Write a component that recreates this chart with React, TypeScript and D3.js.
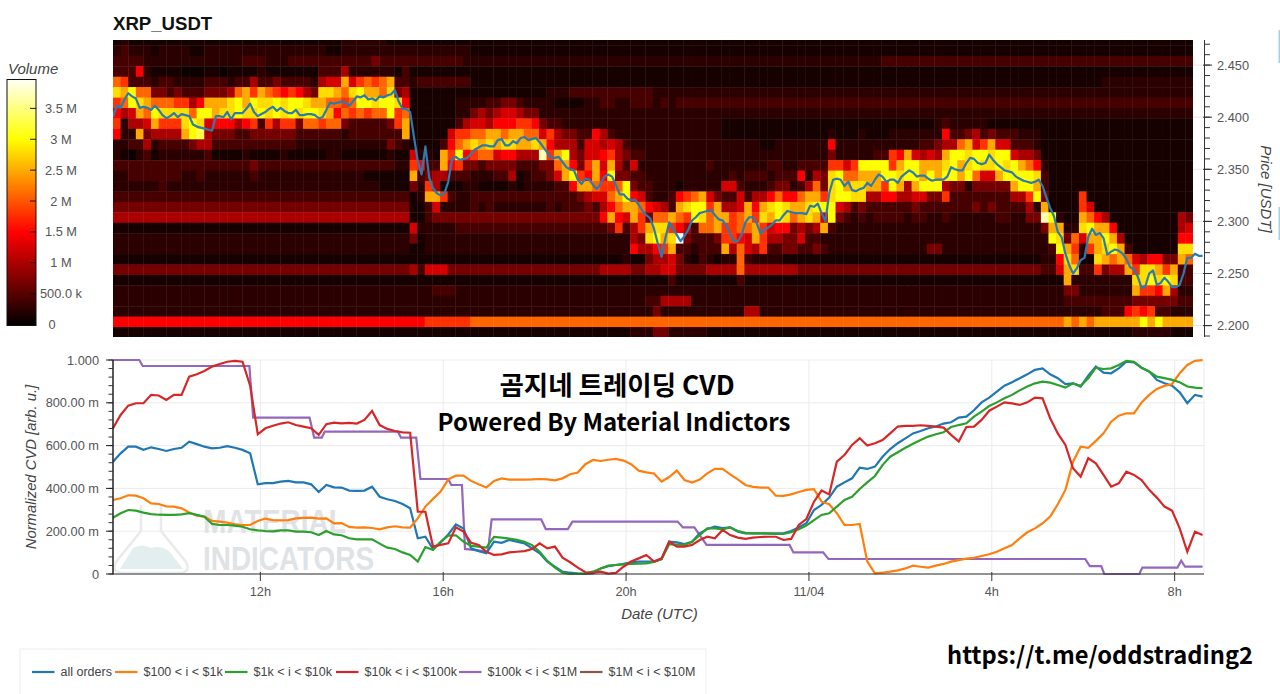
import React from "react";
import * as d3 from "d3";

// ---------- data ----------
const startTime = Date.UTC(2024, 10, 3, 8, 46, 36);
const endTime = Date.UTC(2024, 10, 4, 8, 38, 30);
const tenMin = 600000;
const fiveMin = 300000;

// heat map: one hex digit per cell, 142 ten-minute columns, top price row first
const volumeLevels = [0.05, 0.15, 0.25, 0.42, 0.68, 1.0, 1.25, 1.5, 1.8, 2.1, 2.5, 2.8, 3.0, 3.3, 3.7, 4.1];
const heatRows = [
  "1211111111 1111111111 1111111111 2222221111 1111111111 1111111111 1111111111 1111111111 1111111111 1111111111 1111111111 1111111111 1111111111 1111111111 11",
  "2322212222 1122222222 2222222211 2222222222 2222222111 1111111111 1111111111 1111111111 1111111111 1111111111 1111111111 1111111111 1111111111 1111111111 11",
  "3333222222 2222222333 2223333333 3333433333 3333332222 2222222222 2222222222 2222222222 2222222222 2222222222 2333333333 3333333333 3333333333 3333333333 33",
  "3337211110 0011011112 1111111333 5222222131 1111111111 1111111111 1111111111 1111111111 1111111111 1111111111 1111111111 1111111111 1111111111 1111111111 11",
  "9833323322 2233323353 3433332566 a68989a332 3333333111 1111111111 1111111111 1111111111 1111111111 1111111111 1111111111 1111111111 1111111111 2222222222 22",
  "bac9944343 3344459a8a 9878754bba 9bcaa9b451 1111111111 1111111222 3333333333 3222222222 2222222222 2222222222 2222222222 2222222222 2222222222 2222222222 22",
  "89cba99988 57aaabcacb bcbccbaa99 89ccbccb71 1111122223 3443222211 1122332233 3232333333 3333333333 3333333333 3333333333 3333333333 3333333333 3333333333 33",
  "756a9cbbbb 9ccabbcbbc bcbcbccba7 989899c891 1111122454 5665442222 2222222222 2222222222 2222222222 2222222222 2222222222 2222222222 2222222222 2222222222 22",
  "82556a888b cb67775783 8588499899 43333348a1 1111135665 7778874332 2222222222 2222222222 1111111111 1111111111 1111111123 2222211111 1111111111 1111111111 11",
  "722a45555a cd54443344 4444333333 23333333a1 111168899a a9aa996854 4337532222 2222222222 1111111111 1111211121 1122222227 3345343332 2211111111 1111111111 11",
  "2233523333 4553333333 3333222222 2222224321 111379abab abbaaba755 5366565322 2222222222 2222211222 2222722222 2222223345 59a68a6633 3211111111 1111111111 11",
  "2102312222 2231111211 1121111122 1111112116 221a8c7899 677555e8ac 5466785433 2222222222 2222222222 2222422222 3387a6565a ccbccbcc65 5411111111 1111111111 11",
  "3333333333 3333333343 3333333333 3333333228 733a784434 444333449a 748a6a5362 2222222232 2222223322 33338868cc cc8accaaab cabcbbcbca 9721111111 1111111111 11",
  "2233333332 2322222232 2222222222 222111111a 3455333222 335123346a c87a7c4433 2222222222 2323332333 7254bc99aa accbccacac cac966accc cb31111111 1111111111 11",
  "2222223222 2222222222 2222222222 2222211114 2851112211 1121222233 7aa9889c43 3222122222 6632223442 3594bcabba a8ca5accc5 44244444ac ca31111111 1111111111 11",
  "3333333333 3333333333 3333333333 3333333331 2aa8322333 3333333333 345669ac76 3223789a64 3363557977 9aa8bccbb5 5775566448 3333333355 8c41111811 1111111111 11",
  "4444444444 4444444444 4444444444 4444444441 1362222323 2222222323 3343579aa9 7653abcc8a 556a7abcba abccc65343 3333343333 3334343333 52a1111861 1111111111 11",
  "5555555555 5555555555 5555555555 5555555551 1344444444 4444444444 44447a76a8 499a98cb9a a89a8bacb9 aba6c43232 3333233223 2222223322 44ec211a97 5111111111 54",
  "1111111111 1111111111 1111111111 1111111116 2222233333 3333333333 3333348358 abb875399a 8899a86774 545a322222 2222222222 2222222222 224aa22bca a711111111 56",
  "2222222222 2222222222 2222222222 2222222224 1222222222 2222222222 2222222254 bcabf43334 8876a85544 6332222222 2222222222 2222222222 222cb496aa ca51111111 77",
  "2222222222 2222222222 2222222222 2222222221 1222222222 2222222222 2222222275 578a332333 a596583344 3343222222 2222222442 2222222222 2223ca828a bca3111111 bb",
  "1111111111 1111111111 1111111111 1111111111 1111111111 1111111111 1111111211 4556421321 2293222211 1111111111 1111111111 1111111111 11227b911b a9a9657744 a9",
  "4444444444 4444444444 4444444444 4444444445 3666444444 4444444444 4444555544 5566444455 5595555555 4444444444 4444444444 4444444444 44336ab338 455a8bba8a 33",
  "1111111111 1111111111 1111111111 1111111111 1111111111 1111111111 1111111111 1113111111 1131111111 1111111111 1111111111 1111111111 11111a2222 2222bbcbcb 33",
  "2222222222 2222222222 2222222222 2222222222 2233322222 2222222222 2222222222 2222222222 2222222222 2222222222 2222222222 2222222222 2222244222 2222a887a5 22",
  "2222222222 2222222222 2222222222 2222222222 2222222222 2222222222 2222222222 3355552222 2222222222 2222222222 2222222222 2222222222 2222233333 3333444444 33",
  "2222222222 2222222222 2222222222 2222222222 2222222222 2222222222 2222222222 2422222222 2225522222 2222222222 2222222222 2222222222 2222222222 3337878332 22",
  "7777777777 7777777777 7777777777 7777777777 7888888999 9999999999 9999999999 9999999999 9999999999 9999999999 9999999999 9999999999 99999a9a9a aaaaacacaa aa",
  "1111111111 1111111111 1111111111 1111111111 1111111111 1111111111 1111111122 2442222211 1111111111 1111111111 1111111111 1111111111 1111111111 1111222221 11",
];

// price, thousandths of a USDT, every five minutes
const priceMilli = [
  2400,2411,2409,2417,2423,2420,2418,2409,2410,2409,2407,2411,2407,2402,2399,2401,2404,2400,2403,2402,
  2401,2393,2391,2390,2389,2388,2387,2401,2401,2400,2405,2398,2404,2404,2404,2408,2413,2405,2401,2403,
  2405,2408,2410,2406,2409,2406,2404,2404,2407,2402,2402,2403,2403,2402,2399,2400,2407,2414,2413,2414,
  2415,2414,2411,2415,2420,2419,2421,2417,2418,2416,2420,2419,2421,2422,2426,2415,2408,2408,2405,2381,
  2358,2345,2372,2342,2332,2327,2325,2327,2338,2360,2362,2359,2360,2361,2365,2369,2371,2373,2373,2372,
  2372,2378,2379,2373,2373,2377,2375,2380,2381,2378,2379,2380,2376,2371,2366,2361,2361,2362,2357,2352,
  2350,2349,2340,2336,2341,2340,2335,2331,2336,2343,2345,2343,2335,2326,2326,2322,2320,2321,2316,2310,
  2306,2303,2293,2279,2266,2284,2299,2293,2287,2281,2286,2292,2301,2304,2308,2309,2310,2311,2306,2302,
  2301,2296,2288,2281,2281,2287,2299,2304,2304,2298,2288,2293,2294,2297,2301,2301,2306,2310,2309,2308,
  2308,2308,2307,2315,2314,2317,2308,2300,2327,2340,2341,2340,2334,2338,2330,2329,2331,2332,2337,2334,
  2340,2345,2343,2338,2340,2340,2337,2343,2346,2349,2347,2343,2344,2344,2341,2339,2340,2340,2340,2343,
  2352,2350,2349,2349,2356,2361,2360,2356,2355,2356,2364,2359,2355,2352,2349,2348,2347,2343,2341,2339,
  2338,2337,2338,2340,2334,2323,2313,2305,2290,2285,2269,2258,2250,2255,2263,2265,2285,2293,2287,2289,
  2284,2268,2271,2273,2272,2269,2264,2256,2254,2247,2236,2238,2250,2253,2239,2241,2246,2242,2237,2237,
  2239,2250,2265,2265,2269,2267,2267,
];

// normalized CVD, milli-units, every ten minutes
const allOrders = [
  525,564,595,595,580,592,584,575,584,590,618,607,595,587,590,597,590,580,564,419,
  425,425,432,435,428,428,419,383,416,405,404,390,388,390,408,361,349,341,327,307,
  167,174,117,148,185,232,213,120,107,97,151,146,159,151,143,120,97,58,34,11,
  6,2,0,3,26,37,42,47,55,58,58,58,70,151,148,140,151,190,210,221,
  215,218,198,190,190,190,190,190,190,201,217,237,299,323,357,408,428,447,497,491,
  502,548,584,611,634,657,668,681,689,703,709,731,735,765,802,824,852,880,896,915,
  933,954,961,933,915,887,891,876,927,969,941,938,961,992,989,964,946,907,891,880,
  849,798,837,829,
];
const orders100to1k = [
  346,354,368,366,354,330,327,316,315,307,287,273,268,248,245,240,232,229,229,248,
  259,252,251,252,260,262,263,259,260,237,238,220,217,218,215,209,218,223,218,217,
  260,315,351,385,442,460,460,435,419,404,435,447,441,441,441,442,444,442,438,447,
  466,474,513,533,528,534,538,530,513,483,475,470,432,453,483,439,427,441,470,491,
  491,466,442,416,407,404,404,366,365,372,383,393,396,338,326,284,229,229,234,58,
  3,6,11,17,26,39,34,30,39,47,58,65,72,76,84,92,104,120,135,167,
  195,213,237,268,326,393,525,595,590,622,657,712,740,751,751,802,837,865,879,888,
  938,977,996,999,
];
const orders1kto10k = [
  263,284,299,296,287,280,277,276,276,279,284,276,268,234,229,229,226,221,209,204,
  201,199,204,204,198,198,195,182,201,185,181,167,162,162,162,142,123,117,101,89,
  58,126,112,151,179,181,151,131,128,123,173,170,165,160,151,135,104,61,30,6,
  0,2,3,11,26,39,42,45,47,48,50,56,70,139,137,136,151,182,213,213,
  209,218,201,192,190,190,189,187,187,195,209,226,252,276,284,315,346,361,397,428,
  458,509,548,569,590,609,626,642,653,662,687,696,704,735,759,785,802,821,837,858,
  876,891,899,894,883,871,891,880,915,964,958,961,977,996,992,964,946,922,915,907,
  896,876,871,868,
];
const orders10kto100k = [
  681,743,787,798,798,837,834,813,837,837,922,933,949,969,981,992,996,992,880,653,
  681,693,703,709,696,689,681,650,700,707,704,706,703,720,762,696,678,668,662,660,
  291,291,128,136,143,218,198,146,136,104,89,92,101,104,107,117,143,120,128,76,
  55,30,8,6,11,2,5,34,58,73,89,58,73,151,128,128,136,159,174,167,
  206,182,170,164,170,173,174,174,159,164,229,257,338,390,372,525,556,603,634,600,
  611,626,657,689,692,692,695,692,689,684,650,619,687,689,720,763,782,802,797,790,
  802,824,821,728,657,603,494,455,541,517,463,408,424,478,463,439,393,357,315,296,
  213,104,198,182,
];
// the biggest-order curve is a staircase: ten-minute step number, value
const whaleStep = [
  0,3.45,3.9,17.9,18.4,25.8,26.4,27.4,27.8,37.4,37.8,39.8,40.35,44,44.4,45.8,46.2,49.2,49.7,56.2,56.8,59.7,60.3,74.1,74.8,76.3,77.9,88.8,89.3,93.2,93.9,127.6,128.2,129.7,130.1,134.7,135.1,139.7,140.2,140.7,143,
];
const whaleValue = [
  1000,1000,972,972,731,731,637,637,665,665,637,637,444,444,416,416,117,105,255,255,210,210,245,245,218,218,136,136,101,101,70,70,37,37,0,0,30,30,62,34,34,
];

const legendLabels = ["all orders", "$100 < i < $1k", "$1k < i < $10k", "$10k < i < $100k", "$100k < i < $1M", "$1M < i < $10M"];
const legendColors = ["#1f77b4", "#ff7f0e", "#2ca02c", "#d62728", "#9467bd", "#8c564b"];
const legendLineX = [32, 115, 225, 336, 459, 580];

const priceTicks = [2.2, 2.25, 2.3, 2.35, 2.4, 2.45];
const priceMinor = d3.range(219, 248).map((d) => d / 100);
const cvdTicks = [0, 200, 400, 600, 800, 1000];
const cvdLabels = ["0", "200.00 m", "400.00 m", "600.00 m", "800.00 m", "1.000"];
const cvdMinor = d3.range(0, 1001, 40);
const timeTicks = [
  { t: Date.UTC(2024, 10, 3, 12), label: "12h" },
  { t: Date.UTC(2024, 10, 3, 16), label: "16h" },
  { t: Date.UTC(2024, 10, 3, 20), label: "20h" },
  { t: Date.UTC(2024, 10, 4, 0), label: "11/04" },
  { t: Date.UTC(2024, 10, 4, 4), label: "4h" },
  { t: Date.UTC(2024, 10, 4, 8), label: "8h" },
];
const volumeTicks = [0, 0.5, 1, 1.5, 2, 2.5, 3, 3.5];
const volumeLabels = ["0", "500.0 k", "1 M", "1.5 M", "2 M", "2.5 M", "3 M", "3.5 M"];

// ---------- scales ----------
const L = 113, R = 1204, HEAT_R = 1193;
const x = d3.scaleUtc().domain([startTime, endTime]).range([L, R]);
const yPrice = d3.scaleLinear().domain([2.2, 2.45]).range([325.6, 65.1]);
const yCvd = d3.scaleLinear().domain([0, 1000]).range([574, 360]);
const yBar = d3.scaleLinear().domain([0, 4]).range([324.5, 77.5]);

const rowsClean = heatRows.map((r) => r.replace(/ /g, ""));
const colBand = d3.scaleBand<number>().domain(d3.range(142)).range([L, HEAT_R]);
const rowBand = d3.scaleBand<number>().domain(d3.range(29)).range([35, 337.5]);

const clamp = (v: number) => Math.max(0, Math.min(1, v));
const hotColor = (v: number) =>
  d3.rgb(255 * clamp(v / 1.5), 255 * clamp((v - 1.5) / 1.5), 255 * clamp((v - 3) / 1)).formatHex();

const cvdLine = d3
  .line<number>()
  .x((_, i) => x(startTime + i * tenMin))
  .y((d) => yCvd(d));
const priceLine = d3
  .line<number>()
  .x((_, i) => x(startTime + i * fiveMin))
  .y((d) => yPrice(d / 1000));
const stepPath = d3
  .line<number>()
  .x((d) => x(startTime + d * tenMin))
  .y((_, i) => yCvd(whaleValue[i]));

const FONT = "'Liberation Sans', Arial, sans-serif";
const KFONT = "'Noto Sans CJK KR', 'Noto Sans', sans-serif";
const gradStops = [0, 0.75, 1.5, 2.25, 3, 3.5, 3.96];

export default function App() {
  return (
    <svg
      width={1280}
      height={694}
      viewBox="0 0 1280 694"
      style={{ position: "fixed", left: 0, top: 0, background: "#fff", display: "block" }}
      fontFamily={FONT}
    >
      <defs>
        <clipPath id="heatClip">
          <rect x={L} y={40} width={HEAT_R - L} height={297} />
        </clipPath>
        <clipPath id="topClip">
          <rect x={L} y={40} width={R - L} height={297} />
        </clipPath>
        <filter id="soft" x="-1%" y="-1%" width="102%" height="102%">
          <feGaussianBlur stdDeviation="0.45" />
        </filter>
        <linearGradient id="hotBar" x1="0" y1="1" x2="0" y2="0">
          {gradStops.map((v) => (
            <stop key={v} offset={v / 3.96} stopColor={hotColor(v)} />
          ))}
        </linearGradient>
      </defs>

      <text x={113} y={30} fontSize={18.6} fontWeight="bold" fill="#111">XRP_USDT</text>

      {/* heat map */}
      <g clipPath="url(#heatClip)">
        <g filter="url(#soft)">
          {rowsClean.map((row, r) =>
            row.split("").map((ch, c) => (
              <rect
                key={r + "-" + c}
                x={colBand(c)}
                y={rowBand(r)}
                width={colBand.bandwidth() + 0.4}
                height={rowBand.bandwidth() + 0.4}
                fill={hotColor(volumeLevels[parseInt(ch, 16)])}
              />
            ))
          )}
        </g>
      </g>
      {priceTicks.map((p) => (
        <line key={p} x1={HEAT_R} x2={R} y1={yPrice(p)} y2={yPrice(p)} stroke="#e6e6e6" />
      ))}
      <g clipPath="url(#topClip)">
        <path d={priceLine(priceMilli) || ""} fill="none" stroke="#2a7bb0" strokeWidth={2.2} strokeLinejoin="round" />
      </g>

      {/* right axis */}
      <line x1={R + 0.5} x2={R + 0.5} y1={40} y2={337} stroke="#333" />
      {priceMinor.map((p) => (
        <line key={p} x1={R} x2={R + 6} y1={yPrice(p)} y2={yPrice(p)} stroke="#333" />
      ))}
      {priceTicks.map((p) => (
        <g key={p}>
          <line x1={R - 1} x2={R + 8} y1={yPrice(p)} y2={yPrice(p)} stroke="#333" />
          <text x={1217} y={yPrice(p) + 4.5} fontSize={12.8} fill="#555">{p.toFixed(3)}</text>
        </g>
      ))}
      <text transform="translate(1261,189) rotate(90)" textAnchor="middle" fontSize={15} fontStyle="italic" fill="#444">
        Price [USDT]
      </text>
      <rect x={1278.5} y={30} width={1.5} height={33} fill="#a8d0e0" />
      <rect x={1278.5} y={207} width={1.5} height={33} fill="#a8d0e0" />

      {/* colour bar */}
      <text x={8} y={74} fontSize={15} fontStyle="italic" fill="#444">Volume</text>
      <rect x={7} y={79.5} width={29} height={246} fill="url(#hotBar)" stroke="#111" />
      {volumeTicks.map((v, i) => (
        <g key={v}>
          {i > 0 && <line x1={30} x2={36} y1={yBar(v)} y2={yBar(v)} stroke="#111" />}
          <text
            x={i === 0 ? 52 : 61}
            y={yBar(v) + 4.5}
            textAnchor="middle"
            fontSize={12.8}
            fill="#555"
          >
            {volumeLabels[i]}
          </text>
        </g>
      ))}

      {/* lower panel: grid */}
      {cvdTicks.map((v) => (
        <line key={v} x1={L} x2={R} y1={yCvd(v)} y2={yCvd(v)} stroke="#ebebeb" />
      ))}
      {timeTicks.map((d) => (
        <line key={d.t} x1={x(d.t)} x2={x(d.t)} y1={360} y2={574} stroke="#ebebeb" />
      ))}
      <line x1={R} x2={R} y1={360} y2={574} stroke="#ebebeb" />

      {/* watermark */}
      <path
        d="M141 505 L141 531 L116 562 Q111 572 122 573 L180 573 Q191 572 186 562 L161 531 L161 505"
        fill="none"
        stroke="#e9ebeb"
        strokeWidth={2.5}
      />
      <path
        d="M120 569 L133 548 Q142 543 151 548 Q162 545 170 552 L183 569 Z"
        fill="#e3efef"
      />
      <text x={203} y={533} fontSize={34} fontWeight="bold" fill="#dfe3e6" textLength={143} lengthAdjust="spacingAndGlyphs">
        MATERIAL
      </text>
      <text x={203} y={570} fontSize={34} fontWeight="bold" fill="#dfe3e6" textLength={171} lengthAdjust="spacingAndGlyphs">
        INDICATORS
      </text>

      {/* lower panel: curves */}
      <path d={stepPath(whaleStep) || ""} fill="none" stroke={legendColors[4]} strokeWidth={2.2} />
      <path d={cvdLine(allOrders) || ""} fill="none" stroke={legendColors[0]} strokeWidth={2.2} />
      <path d={cvdLine(orders100to1k) || ""} fill="none" stroke={legendColors[1]} strokeWidth={2.2} />
      <path d={cvdLine(orders1kto10k) || ""} fill="none" stroke={legendColors[2]} strokeWidth={2.2} />
      <path d={cvdLine(orders10kto100k) || ""} fill="none" stroke={legendColors[3]} strokeWidth={2.2} />

      {/* lower panel: axes */}
      <line x1={L} x2={L} y1={360} y2={574.5} stroke="#222" strokeWidth={1.5} />
      <line x1={L} x2={R} y1={574} y2={574} stroke="#333" strokeWidth={1.2} />
      {cvdMinor.map((v) => (
        <line key={v} x1={L - 4.5} x2={L} y1={yCvd(v)} y2={yCvd(v)} stroke="#333" />
      ))}
      {cvdTicks.map((v, i) => (
        <g key={v}>
          <line x1={L - 7} x2={L} y1={yCvd(v)} y2={yCvd(v)} stroke="#222" />
          <text x={99} y={yCvd(v) + 4.5} textAnchor="end" fontSize={12.8} fill="#555">{cvdLabels[i]}</text>
        </g>
      ))}
      {timeTicks.map((d) => (
        <g key={d.t}>
          <line x1={x(d.t)} x2={x(d.t)} y1={572} y2={581} stroke="#333" />
          <text x={x(d.t)} y={596} textAnchor="middle" fontSize={12.8} fill="#555">{d.label}</text>
        </g>
      ))}
      <text transform="translate(35.5,467) rotate(-90)" textAnchor="middle" fontSize={14.8} fontStyle="italic" fill="#444">
        Normalized CVD [arb. u.]
      </text>
      <text x={659.5} y={618.5} textAnchor="middle" fontSize={15} fontStyle="italic" fill="#444">Date (UTC)</text>

      {/* overlay titles */}
      <text x={617} y={395} textAnchor="middle" fontFamily={KFONT} fontSize={26.5} fontWeight="bold" fill="#000">
        곰지네 트레이딩 CVD
      </text>
      <text x={614} y={430.5} textAnchor="middle" fontFamily={KFONT} fontSize={24} fontWeight="bold" fill="#000">
        Powered By Material Indictors
      </text>
      <text x={1100} y={664} textAnchor="middle" fontFamily={KFONT} fontSize={23.7} fontWeight="bold" fill="#000">
        https://t.me/oddstrading2
      </text>

      {/* legend */}
      <rect x={20} y={649} width={686} height={60} fill="#fff" stroke="#eeeeee" />
      {legendLabels.map((label, i) => (
        <g key={label}>
          <line x1={legendLineX[i]} x2={legendLineX[i] + 22.5} y1={672} y2={672} stroke={legendColors[i]} strokeWidth={2.2} />
          <text x={legendLineX[i] + 28.5} y={676} fontSize={12.5} fill="#444">{label}</text>
        </g>
      ))}
    </svg>
  );
}
